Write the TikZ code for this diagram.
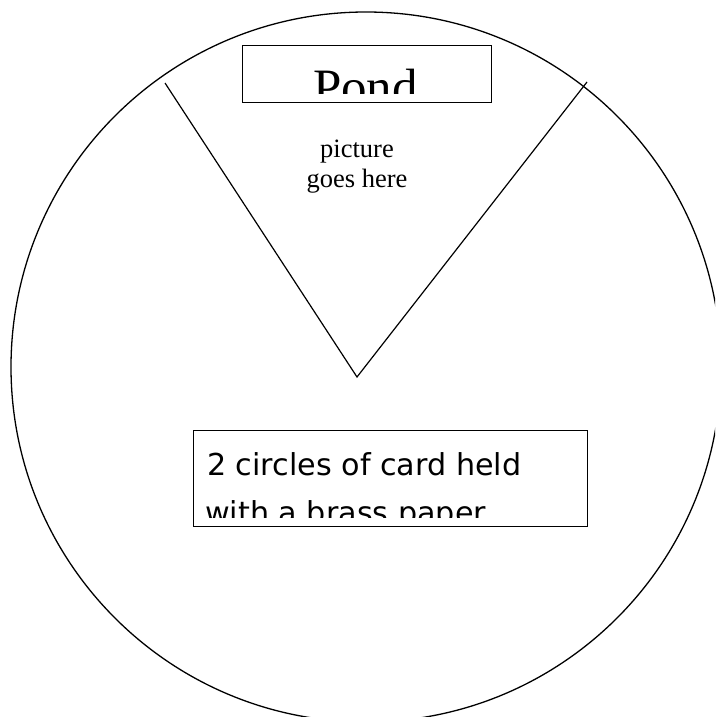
\documentclass[tikz,border=0pt]{standalone}
\usepackage{fontspec}
\setmainfont{Liberation Serif}
\newfontfamily\comicfont{DejaVu Sans}
\begin{document}
\begin{tikzpicture}[x=1pt,y=-1pt,
  outline/.style={line width=1.3pt, draw=black},
  boxline/.style={draw=black, line width=1.2pt, inner sep=0pt, anchor=north west}]
\useasboundingbox (0,0) rectangle (715,717);
\clip (0,0) rectangle (715,717);
\fill[white] (0,0) rectangle (715,717);
% outer circle
\draw[outline] (366,367) circle[radius=355];
% V cut-out
\coordinate (vl) at (165,83);
\coordinate (vb) at (357,377);
\coordinate (vr) at (587,82);
\draw[line width=1.2pt] (vl) -- (vb) -- (vr);
% Pond label box
\node[boxline, minimum width=249pt, minimum height=57pt] (pondbox) at (242,45) {};
\begin{scope}
\clip (243,46) rectangle (490,93);
\node[anchor=base, inner sep=0pt, font=\fontsize{51}{56}\selectfont] (pond) at (365.5,104.5) {Pond};
\end{scope}
% picture text
\node[anchor=base, inner sep=0pt, font=\fontsize{26.5}{30}\selectfont] (pic1) at (357,157) {picture};
\node[anchor=base, inner sep=0pt, font=\fontsize{26.5}{30}\selectfont] (pic2) at (357,187) {goes here};
% bottom box
\node[boxline, minimum width=394pt, minimum height=96pt] (cardbox) at (193,430) {};
\begin{scope}
\clip (194,431) rectangle (586,517);
\node[anchor=base west, inner sep=0pt, font=\comicfont\fontsize{30.2}{48}\selectfont] (card1) at (207,475) {2 circles of card held};
\node[anchor=base west, inner sep=0pt, font=\comicfont\fontsize{30.2}{48}\selectfont] (card2) at (205,523) {with a brass paper};
\end{scope}
\end{tikzpicture}
\end{document}
